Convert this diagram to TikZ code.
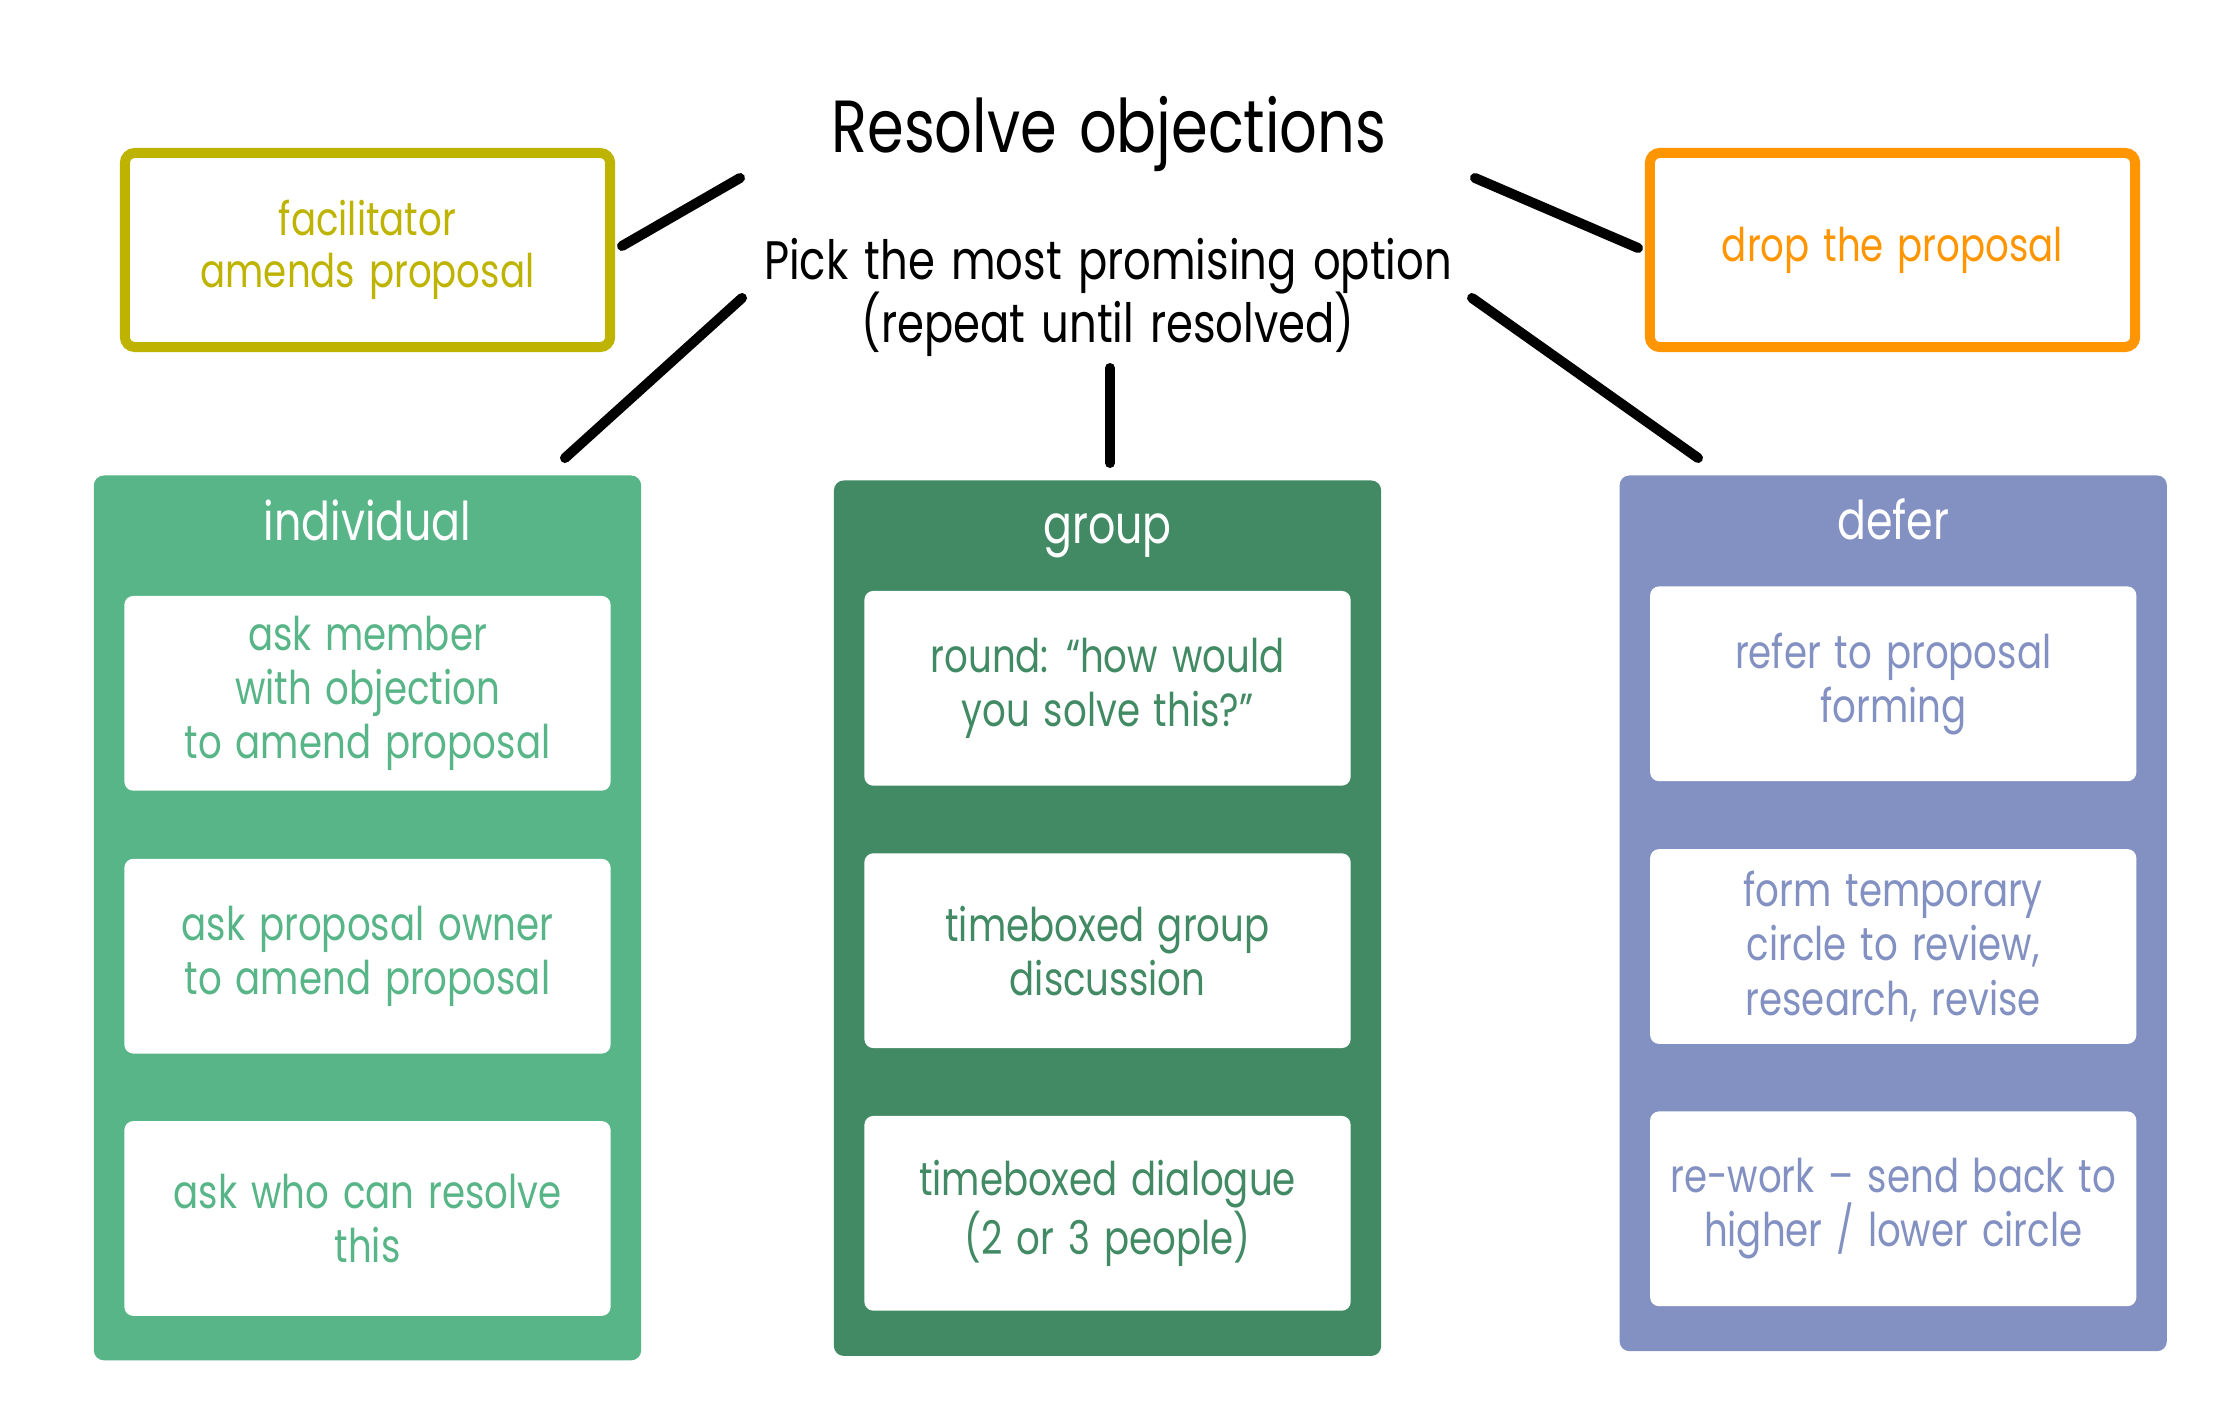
\documentclass[tikz,border=0pt]{standalone}
\usepackage{fontspec}
\setmainfont{Poppins}[FakeStretch=0.8, WordSpace=1.4]
\definecolor{olivec}{RGB}{190,180,0}
\definecolor{orangec}{RGB}{255,149,0}
\definecolor{indc}{RGB}{87,181,135}
\definecolor{grpc}{RGB}{65,138,100}
\definecolor{defc}{RGB}{131,145,194}
\begin{document}
\begin{tikzpicture}[x=0.01cm,y=-0.01cm,
  colbox/.style={rectangle, rounded corners=0.1cm, minimum width=5.47cm, inner sep=0pt},
  itembox/.style={rectangle, fill=white, rounded corners=0.09cm, minimum width=4.86cm, minimum height=1.947cm, align=center, inner sep=0pt, font=\fontsize{13.2}{15.4}\selectfont},
  header/.style={text=white, anchor=base, inner sep=0pt, font=\fontsize{15.2}{18}\selectfont},
  optbox/.style={rectangle, draw, fill=white, line width=0.1cm, rounded corners=0.1cm, minimum width=4.85cm, minimum height=1.94cm, align=center, inner sep=0pt, font=\fontsize{13.2}{14.8}\selectfont},
  link/.style={line width=0.1cm, line cap=round}]
\useasboundingbox (0,0) rectangle (2216,1419);
\fill[white] (0,0) rectangle (2216,1419);

% top boxes and title
\node[optbox, draw=olivec, text=olivec] (fac) at (367.5,250) {facilitator\\amends proposal};
\node[optbox, draw=orangec, text=orangec] (drop) at (1892.5,250) {drop the proposal};
\node[anchor=base, inner sep=0pt, font=\fontsize{21}{24}\selectfont] (title) at (1109,153) {Resolve objections};
\node[anchor=base, inner sep=0pt, font=\fontsize{15.4}{17.9}\selectfont] (sub1) at (1108,280) {Pick the most promising option};
\node[anchor=base, inner sep=0pt, font=\fontsize{15.4}{17.9}\selectfont] (sub2) at (1108,343) {(repeat until resolved)};

% individual column
\node[colbox, fill=indc, minimum height=8.843cm] (ind) at (367.5,917.9) {};
\node[header] (indh) at (367.5,540.7) {individual};
\node[itembox, text=indc] (i1) at (367.5,693.3) {ask member\\with objection\\to amend proposal};
\node[itembox, text=indc] (i2) at (367.5,956.2) {ask proposal owner\\to amend proposal};
\node[itembox, text=indc] (i3) at (367.5,1218.5) {ask who can resolve\\this};

% group column
\node[colbox, fill=grpc, minimum height=8.75cm] (grp) at (1107.5,918.2) {};
\node[header] (grph) at (1107.5,543.5) {group};
\node[itembox, text=grpc] (g1) at (1107.5,688.3) {round: “how would\\you solve this?”};
\node[itembox, text=grpc] (g2) at (1107.5,950.7) {timeboxed group\\discussion};
\node[itembox, text=grpc] (g3) at (1107.5,1213.3) {timeboxed dialogue\\(2 or 3 people)};

% defer column
\node[colbox, fill=defc, minimum height=8.753cm] (def) at (1893.2,913.3) {};
\node[header] (defh) at (1893.2,540) {defer};
\node[itembox, text=defc] (d1) at (1893.2,683.8) {refer to proposal\\forming};
\node[itembox, text=defc] (d2) at (1893.2,946.5) {form temporary\\circle to review,\\research, revise};
\node[itembox, text=defc] (d3) at (1893.2,1208.8) {re-work – send back to\\higher / lower circle};

% connector end points
\coordinate (facR) at (622,246);
\coordinate (titL) at (740,178);
\coordinate (titR) at (1475,178);
\coordinate (dropL) at (1638,248);
\coordinate (subL) at (742,298);
\coordinate (indT) at (565,458);
\coordinate (subC) at (1110,368);
\coordinate (grpT) at (1110,463);
\coordinate (subR) at (1472,298);
\coordinate (defT) at (1698,458);

\draw[link] (facR) -- (titL);
\draw[link] (titR) -- (dropL);
\draw[link] (subL) -- (indT);
\draw[link] (subC) -- (grpT);
\draw[link] (subR) -- (defT);
\end{tikzpicture}
\end{document}
